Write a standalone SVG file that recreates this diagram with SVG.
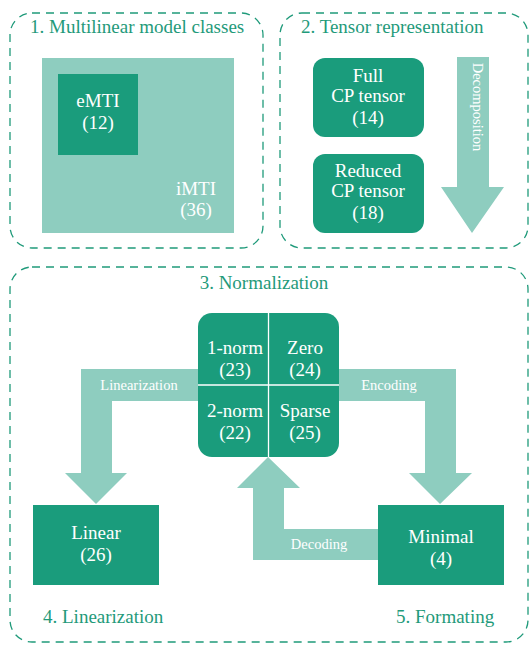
<svg xmlns="http://www.w3.org/2000/svg" width="532" height="645" viewBox="0 0 532 645" font-family="'Liberation Serif', 'Times New Roman', 'DejaVu Serif', serif">
<style>
.frame{fill:none;stroke:#1f9a7a;stroke-width:1.3;stroke-dasharray:8,6}
.dark{fill:#1a9c7c}
.light{fill:#8ecdbf}
text{font-family:'Liberation Serif','Times New Roman','DejaVu Serif',serif}
.t{font-size:19px;fill:#ffffff;text-anchor:middle}
.s{font-size:14.5px;fill:#ffffff;text-anchor:middle}
.h{font-size:19px;fill:#1f9a7a}
</style>
<rect width="532" height="645" fill="#ffffff"/>
<g id="frames">
<rect class="frame" x="10" y="13" width="253" height="235" rx="22"/>
<rect class="frame" x="280" y="13" width="248" height="235" rx="22"/>
<rect class="frame" x="10" y="267" width="518" height="375" rx="22"/>
<text class="h" x="30" y="33">1. Multilinear model classes</text>
<text class="h" x="301" y="33">2. Tensor representation</text>
<text class="h" x="264" y="289" text-anchor="middle">3. Normalization</text>
<text class="h" x="43" y="623">4. Linearization</text>
<text class="h" x="396" y="623">5. Formating</text>
</g>
<g id="connectors">
<g id="decomposition">
<path class="light" d="M457,57 H489 V187 H504 L472,233 L441,187 H457 Z"/>
<text class="s" transform="translate(473,107) rotate(90)">Decomposition</text>
</g>
<g id="linearization">
<path class="light" d="M198,369 H81 V473 H65 L96,504 L127,473 H112 V401 H198 Z"/>
<text class="s" x="139" y="390">Linearization</text>
</g>
<g id="encoding">
<path class="light" d="M339,369 H456 V473 H472 L440,504 L409,473 H425 V401 H339 Z"/>
<text class="s" x="389" y="390">Encoding</text>
</g>
<g id="decoding">
<path class="light" d="M378,529 H284 V488 H300 L268,457 L237,488 H253 V560 H378 Z"/>
<text class="s" x="319" y="549">Decoding</text>
</g>
</g>
<g id="iMTI">
<rect class="light" x="42" y="58" width="192" height="175"/>
<text class="t" x="196" y="195">iMTI</text>
<text class="t" x="196" y="216">(36)</text>
</g>
<g id="eMTI">
<rect class="dark" x="58" y="74" width="80" height="81"/>
<text class="t" x="98" y="107">eMTI</text>
<text class="t" x="98" y="129">(12)</text>
</g>
<g id="full-cp">
<rect class="dark" x="313" y="58" width="111" height="79" rx="12"/>
<text class="t" x="368" y="82">Full</text>
<text class="t" x="368" y="102">CP tensor</text>
<text class="t" x="368" y="124">(14)</text>
</g>
<g id="reduced-cp">
<rect class="dark" x="313" y="154" width="111" height="79" rx="12"/>
<text class="t" x="368" y="177">Reduced</text>
<text class="t" x="368" y="197">CP tensor</text>
<text class="t" x="368" y="219">(18)</text>
</g>
<g id="normalization">
<rect class="dark" x="198" y="313" width="141" height="144" rx="14"/>
<line x1="268.5" y1="313" x2="268.5" y2="457" stroke="#ffffff" stroke-width="1.3"/>
<line x1="198" y1="385" x2="339" y2="385" stroke="#ffffff" stroke-width="1.3"/>
<text class="t" x="235" y="354">1-norm</text>
<text class="t" x="235" y="376">(23)</text>
<text class="t" x="305" y="354">Zero</text>
<text class="t" x="305" y="376">(24)</text>
<text class="t" x="235" y="417">2-norm</text>
<text class="t" x="235" y="439">(22)</text>
<text class="t" x="305" y="417">Sparse</text>
<text class="t" x="305" y="439">(25)</text>
</g>
<g id="linear">
<rect class="dark" x="33" y="505" width="126" height="80"/>
<text class="t" x="96" y="539">Linear</text>
<text class="t" x="96" y="561">(26)</text>
</g>
<g id="minimal">
<rect class="dark" x="378" y="505" width="126" height="80"/>
<text class="t" x="441" y="543">Minimal</text>
<text class="t" x="441" y="565">(4)</text>
</g>
</svg>
